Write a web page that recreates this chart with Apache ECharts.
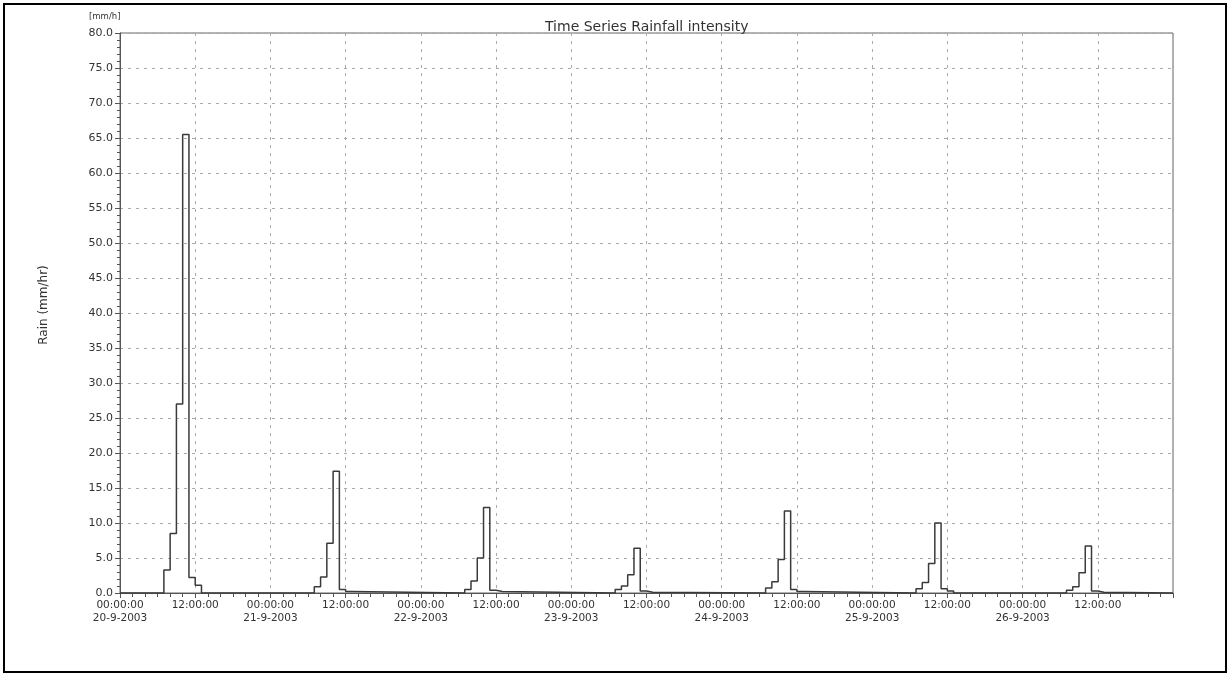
<!DOCTYPE html>
<html lang="en">
<head>
    <meta charset="utf-8">
    <title>Time Series Rainfall intensity</title>
    <script src="https://cdn.jsdelivr.net/npm/echarts@6/dist/echarts.min.js"></script>
    <style>
        body { margin: 0; background: #fff; }
        #chart { width: 1231px; height: 677px; }
    </style>
</head>
<body>
<div id="chart"></div>
<script type="application/javascript">
    // 日期标签 (one per day, x axis in hours from 20-9-2003 00:00)
    var dayLabels = ['20-9-2003', '21-9-2003', '22-9-2003', '23-9-2003', '24-9-2003', '25-9-2003', '26-9-2003'];
    var stormStartHour = 7;   // every storm starts 07:00, hourly steps
    var totalHours = 168;

    // hourly intensities (mm/hr) from 07:00
    var rain20 = [3.3, 8.5, 27.0, 65.5, 2.2, 1.1];
    var rain21 = [0.9, 2.3, 7.1, 17.4, 0.5, 0.2];
    var rain22 = [0.5, 1.7, 5.0, 12.2, 0.4, 0.2];
    var rain23 = [0.5, 1.0, 2.6, 6.4, 0.3, 0.1];
    var rain24 = [0.7, 1.6, 4.8, 11.7, 0.5, 0.2];
    var rain25 = [0.6, 1.5, 4.2, 10.0, 0.6, 0.3];
    var rain26 = [0.4, 0.9, 2.9, 6.7, 0.3, 0.1];
    var rainDays = [rain20, rain21, rain22, rain23, rain24, rain25, rain26];

    var yTicks = [0, 80, 5];

    // build [hour, value] pairs
    var pts = [[0, 0]];
    rainDays.forEach(function (vals, d) {
        var h0 = d * 24 + stormStartHour;
        vals.forEach(function (v, i) {
            pts.push([h0 + i, v]);
        });
        pts.push([h0 + vals.length, 0]);
    });
    pts.push([totalHours, 0]);

    var chart = echarts.init(document.getElementById('chart'));
    var txt = '#333';
    var font = 'DejaVu Sans';

    var option = {
        animation: false,
        backgroundColor: '#fff',
        title: {
            text: 'Time Series Rainfall intensity',
            left: 540,
            top: 15,
            textStyle: {fontFamily: font, fontSize: 14, fontWeight: 'normal', color: txt}
        },
        graphic: [
            {
                type: 'rect',
                shape: {x: 4, y: 4, width: 1222, height: 668},
                style: {fill: null, stroke: '#000', lineWidth: 2},
                silent: true
            },
            {
                type: 'text',
                left: 89,
                top: 12,
                style: {text: '[mm/h]', fontFamily: font, fontSize: 8.5, fill: txt}
            }
        ],
        grid: {
            left: 120, top: 33, width: 1053, height: 560,
            show: true, borderColor: '#666', borderWidth: 1
        },
        xAxis: {
            type: 'value',
            min: 0,
            max: totalHours,
            interval: 12,
            axisLine: {onZero: false, lineStyle: {color: '#555', width: 1}},
            axisTick: {inside: false, length: 5, lineStyle: {color: '#555'}},
            minorTick: {show: true, splitNumber: 6, length: 4, lineStyle: {color: '#555'}},
            splitLine: {show: true, lineStyle: {color: '#aaa', type: [3, 5], width: 1}},
            axisLabel: {
                color: txt, fontFamily: font, fontSize: 10.5, margin: 6, lineHeight: 13,
                showMaxLabel: false,
                formatter: function (h) {
                    if (h >= totalHours) return '';
                    if (h % 24 === 0) return '00:00:00\n' + dayLabels[h / 24];
                    return '12:00:00';
                }
            }
        },
        yAxis: {
            type: 'value',
            min: yTicks[0],
            max: yTicks[1],
            interval: yTicks[2],
            name: 'Rain (mm/hr)',
            nameLocation: 'middle',
            nameGap: 70,
            nameTextStyle: {color: txt, fontFamily: font, fontSize: 12, padding: [0, 0, 0, 16]},
            axisLine: {show: true, lineStyle: {color: '#555', width: 1}},
            axisTick: {show: true, length: 5, lineStyle: {color: '#555'}},
            minorTick: {show: true, splitNumber: 5, length: 3, lineStyle: {color: '#555'}},
            splitLine: {show: true, lineStyle: {color: '#aaa', type: [3, 5], width: 1}},
            axisLabel: {
                color: txt, fontFamily: font, fontSize: 11, margin: 7,
                formatter: function (v) { return v.toFixed(1); }
            }
        },
        series: [{
            name: 'Rain',
            type: 'line',
            step: 'end',
            symbol: 'none',
            data: pts,
            lineStyle: {color: '#3a3a3a', width: 1.5}
        }]
    };

    chart.setOption(option);
</script>
</body>
</html>
